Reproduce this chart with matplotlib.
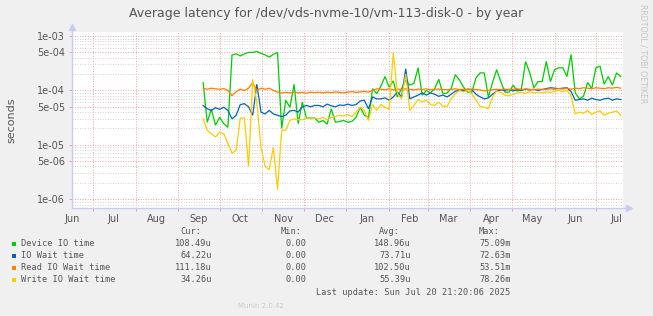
import matplotlib
matplotlib.use("Agg")
import matplotlib.pyplot as plt
import matplotlib.dates as mdates
from matplotlib.ticker import FixedLocator, FuncFormatter, NullFormatter
from matplotlib.patches import Rectangle
import numpy as np
import pandas as pd

# ---------------- data ----------------
start_day = "2024-09-19"
step = "3D"

device_io = [
    1.4e-4, 2.6e-5, 4.5e-5, 2.3e-5, 3.2e-5, 2.45e-5, 2.1e-5, 4.5e-4, 4.7e-4, 4.3e-4,
    4.7e-4, 5.0e-4, 5.0e-4, 5.2e-4, 4.8e-4, 4.5e-4, 4.1e-4, 4.6e-4, 5.0e-4, 2.0e-5,
    6.6e-5, 4.9e-5, 1.3e-4, 2.45e-5, 6.1e-5, 3.1e-5, 3.1e-5, 3.1e-5, 2.6e-5, 2.8e-5,
    2.4e-5, 4.6e-5, 2.6e-5, 2.7e-5, 2.8e-5, 2.6e-5, 2.7e-5, 3.2e-5, 4.9e-5, 3.5e-5,
    3.2e-5, 1.08e-4, 8.7e-5, 1.2e-4, 1.8e-4, 1.15e-4, 1.5e-4, 7.6e-5, 1.08e-4, 1.55e-4,
    1.25e-4, 1.35e-4, 2.6e-4, 8.2e-5, 1.0e-4, 9.0e-5, 1.08e-4, 1.6e-4, 8.7e-5, 9.0e-5,
    1.08e-4, 1.95e-4, 1.55e-4, 1.15e-4, 9.3e-5, 9.3e-5, 1.7e-4, 2.1e-4, 2.1e-4, 7.6e-5,
    1.4e-4, 2.4e-4, 1.45e-4, 9.3e-5, 9.3e-5, 1.25e-4, 9.7e-5, 1.08e-4, 3.4e-4, 2.1e-4,
    1.12e-4, 1.45e-4, 1.45e-4, 3.4e-4, 1.45e-4, 2.4e-4, 2.6e-4, 2.6e-4, 1.8e-4, 4.6e-4,
    9.0e-5, 7.0e-5, 7.8e-5, 1.4e-4, 1.08e-4, 2.6e-4, 2.8e-4, 1.3e-4, 1.8e-4, 1.25e-4,
    2.1e-4, 1.8e-4,
]

io_wait = [
    5.3e-5, 4.6e-5, 4.3e-5, 4.8e-5, 4.5e-5, 4.9e-5, 4.3e-5, 3.0e-5, 3.5e-5, 5.5e-5,
    5.7e-5, 5.0e-5, 3.5e-5, 1.3e-4, 4.0e-5, 3.7e-5, 4.3e-5, 3.7e-5, 3.5e-5, 3.3e-5,
    3.5e-5, 4.2e-5, 4.3e-5, 4.0e-5, 5.0e-5, 5.3e-5, 5.0e-5, 5.3e-5, 5.3e-5, 5.0e-5,
    5.6e-5, 5.2e-5, 5.0e-5, 5.4e-5, 5.3e-5, 5.6e-5, 5.3e-5, 5.5e-5, 6.4e-5, 6.6e-5,
    4.6e-5, 7.6e-5, 7.0e-5, 7.0e-5, 7.3e-5, 6.6e-5, 7.6e-5, 9.3e-5, 7.6e-5, 2.5e-4,
    7.0e-5, 7.6e-5, 8.2e-5, 9.0e-5, 8.2e-5, 9.0e-5, 8.5e-5, 7.8e-5, 8.2e-5, 7.6e-5,
    8.5e-5, 9.7e-5, 1.0e-4, 1.0e-4, 1.06e-4, 1.03e-4, 8.5e-5, 7.6e-5, 7.0e-5, 7.3e-5,
    8.5e-5, 9.7e-5, 1.02e-4, 1.0e-4, 1.05e-4, 9.8e-5, 1.03e-4, 1.0e-4, 1.06e-4, 1.02e-4,
    1.05e-4, 1.0e-4, 1.04e-4, 1.08e-4, 1.12e-4, 1.1e-4, 1.08e-4, 1.1e-4, 1.12e-4, 9.5e-5,
    6.6e-5, 6.8e-5, 7.0e-5, 6.6e-5, 7.2e-5, 6.8e-5, 6.6e-5, 7.0e-5, 7.2e-5, 6.6e-5,
    7.0e-5, 6.8e-5,
]

read_wait = [
    1.1e-4, 1.05e-4, 1.1e-4, 1.07e-4, 1.05e-4, 1.08e-4, 1.0e-4, 8.0e-5, 9.5e-5, 1.05e-4,
    1.0e-4, 1.1e-4, 1.4e-4, 1.0e-4, 1.1e-4, 1.05e-4, 1.1e-4, 1.0e-4, 9.3e-5, 9.0e-5,
    9.2e-5, 9.0e-5, 9.3e-5, 9.0e-5, 9.2e-5, 8.9e-5, 9.3e-5, 9.1e-5, 9.3e-5, 9.0e-5,
    9.3e-5, 9.1e-5, 9.4e-5, 9.2e-5, 9.0e-5, 9.3e-5, 9.5e-5, 9.2e-5, 9.4e-5, 9.6e-5,
    9.3e-5, 1.0e-4, 1.07e-4, 1.05e-4, 1.03e-4, 1.07e-4, 1.02e-4, 1.06e-4, 1.04e-4, 1.07e-4,
    1.05e-4, 1.02e-4, 1.06e-4, 1.04e-4, 1.07e-4, 1.03e-4, 1.05e-4, 1.06e-4, 1.04e-4, 1.03e-4,
    1.05e-4, 1.07e-4, 1.04e-4, 1.05e-4, 1.03e-4, 1.06e-4, 1.04e-4, 1.02e-4, 9.8e-5, 1.0e-4,
    1.03e-4, 1.05e-4, 1.04e-4, 1.06e-4, 1.03e-4, 1.05e-4, 1.07e-4, 1.04e-4, 1.06e-4, 1.05e-4,
    1.03e-4, 1.06e-4, 1.04e-4, 1.05e-4, 1.07e-4, 1.05e-4, 1.08e-4, 1.06e-4, 1.1e-4, 1.05e-4,
    1.1e-4, 1.08e-4, 1.12e-4, 1.1e-4, 1.07e-4, 1.12e-4, 1.1e-4, 1.08e-4, 1.12e-4, 1.1e-4,
    1.14e-4, 1.1e-4,
]

write_wait = [
    3.0e-5, 1.85e-5, 1.6e-5, 1.4e-5, 1.7e-5, 1.6e-5, 1.05e-5, 7.0e-6, 8.0e-6, 3.1e-5,
    3.1e-5, 4.0e-6, 1.6e-4, 6.0e-5, 9.0e-6, 4.0e-6, 3.5e-6, 9.0e-6, 1.5e-6, 1.85e-5,
    1.85e-5, 2.8e-5, 3.0e-5, 2.9e-5, 2.9e-5, 3.1e-5, 3.0e-5, 3.1e-5, 3.0e-5, 3.2e-5,
    2.9e-5, 3.2e-5, 3.3e-5, 3.5e-5, 3.4e-5, 3.6e-5, 3.3e-5, 4.0e-5, 4.9e-5, 4.3e-5,
    2.8e-5, 5.5e-5, 4.3e-5, 5.5e-5, 4.9e-5, 4.5e-5, 5.0e-4, 8.7e-5, 7.0e-5, 2.0e-4,
    4.3e-5, 5.3e-5, 6.8e-5, 6.1e-5, 6.6e-5, 5.5e-5, 5.3e-5, 6.1e-5, 5.1e-5, 5.1e-5,
    7.0e-5, 8.7e-5, 1.0e-4, 9.4e-5, 1.0e-4, 8.7e-5, 6.6e-5, 5.1e-5, 4.9e-5, 4.6e-5,
    7.6e-5, 9.7e-5, 9.2e-5, 8.2e-5, 8.0e-5, 8.5e-5, 9.0e-5, 9.3e-5, 8.8e-5, 9.5e-5,
    9.0e-5, 9.3e-5, 9.0e-5, 9.4e-5, 9.2e-5, 9.5e-5, 1.0e-4, 9.5e-5, 1.0e-4, 8.0e-5,
    3.7e-5, 4.0e-5, 3.8e-5, 4.3e-5, 3.6e-5, 4.0e-5, 4.2e-5, 3.5e-5, 3.8e-5, 4.0e-5,
    4.2e-5, 3.5e-5,
]

series_names = ["Device IO time", "IO Wait time", "Read IO Wait time", "Write IO Wait time"]
series_colors = ["#00CC00", "#0066B3", "#FF8000", "#FFCC00"]
cur_vals = ["108.49u", "64.22u", "111.18u", "34.26u"]
min_vals = ["0.00", "0.00", "0.00", "0.00"]
avg_vals = ["148.96u", "73.71u", "102.50u", "55.39u"]
max_vals = ["75.09m", "72.63m", "53.51m", "78.26m"]

y_major = [1e-6, 5e-6, 1e-5, 5e-5, 1e-4, 5e-4, 1e-3]
t_start = pd.Timestamp("2024-06-15 21:20")
t_end = pd.Timestamp("2025-07-20 21:20")

# ---------------- figure ----------------
W, H = 653, 316
fig = plt.figure(figsize=(W / 100, H / 100), dpi=100, facecolor="#F0F0F0")

def fx(x):
    return x / W

def fy(y):
    return 1 - y / H

L, R, T, B = 72, 623.3, 32.3, 208.3
ax = fig.add_axes([fx(L), fy(B), (R - L) / W, (B - T) / H])
ax.set_facecolor("white")

dates = pd.date_range(start_day, periods=len(device_io), freq=step)
series = [device_io, io_wait, read_wait, write_wait]
for vals, col in zip(series, series_colors):
    ax.plot(dates, vals, color=col, lw=0.9, zorder=3, solid_joinstyle="miter")

ax.set_yscale("log")
ax.set_ylim(6.82e-7, 1.17e-3)
ax.set_xlim(t_start, t_end)

# y ticks / grid
minor_y = [m * 10.0 ** e for e in range(-7, -2) for m in (2, 3, 4, 6, 7, 8, 9)]
ax.yaxis.set_major_locator(FixedLocator(y_major))
ax.yaxis.set_minor_locator(FixedLocator(minor_y))
ax.yaxis.set_major_formatter(FuncFormatter(lambda v, p: f"{v:.0e}"))
ax.yaxis.set_minor_formatter(NullFormatter())

# x ticks / grid: month starts as grid, labels at mid-month
ax.xaxis.set_major_locator(mdates.MonthLocator(bymonthday=1))
ax.xaxis.set_minor_locator(mdates.MonthLocator(bymonthday=16))
ax.xaxis.set_major_formatter(NullFormatter())
ax.xaxis.set_minor_formatter(mdates.DateFormatter("%b"))

dot = (0, (1, 1.6))
ax.yaxis.grid(True, which="minor", color="#D2D2D2", lw=0.7, ls=dot, zorder=1)
ax.yaxis.grid(True, which="major", color="#F2A0A0", lw=0.7, ls=dot, zorder=1)
ax.xaxis.grid(True, which="major", color="#F2A0A0", lw=0.7, ls=dot, zorder=1)
ax.set_axisbelow(True)

tc = "#555555"
ax.tick_params(axis="y", which="major", length=2, width=0.7, color="#F2A0A0",
               labelsize=7, labelcolor=tc, pad=3)
ax.tick_params(axis="y", which="minor", length=0)
ax.tick_params(axis="x", which="major", length=2, width=0.7, color="#F2A0A0", pad=2)
ax.tick_params(axis="x", which="minor", length=0, labelsize=7, labelcolor=tc, pad=4)

for s in ("top", "right", "left", "bottom"):
    ax.spines[s].set_visible(False)

axis_col = "#C8CCF4"
ax.plot([0, 0], [0, 1.025], transform=ax.transAxes, color=axis_col, lw=1.0, clip_on=False, zorder=4)
ax.plot([0, 1.008], [0, 0], transform=ax.transAxes, color=axis_col, lw=1.0, clip_on=False, zorder=4)
ax.plot([0], [1.03], transform=ax.transAxes, marker="^", ms=4, color=axis_col, clip_on=False, zorder=4)
ax.plot([1.01], [0], transform=ax.transAxes, marker=">", ms=4, color=axis_col, clip_on=False, zorder=4)

# texts
fig.text(fx(326), fy(13), "Average latency for /dev/vds-nvme-10/vm-113-disk-0 - by year",
         ha="center", va="center", fontsize=9, color=tc)
fig.text(fx(11), fy(120), "seconds", rotation=90, ha="center", va="center", fontsize=8, color=tc)
fig.text(fx(643), fy(54), "RRDTOOL / TOBI OETIKER", rotation=270, ha="center", va="center",
         fontsize=5.6, color="#C4C4C4")

# legend
mono = "DejaVu Sans Mono"
lfs = 6.2
hdr_y = 231.5
for txt, xr in zip(["Cur:", "Min:", "Avg:", "Max:"], [201, 302, 400, 500]):
    fig.text(fx(xr), fy(hdr_y), txt, ha="right", va="center", family=mono, fontsize=lfs, color=tc)

rows_y = [244, 256, 268, 280]
col_right = [211.7, 307, 410.7, 510.7]
for i, (name, col) in enumerate(zip(series_names, series_colors)):
    y = rows_y[i]
    fig.patches.append(Rectangle((fx(11.7), fy(y + 2.3)), 4.5 / W, 4.5 / H,
                                 transform=fig.transFigure, facecolor=col, edgecolor="none"))
    fig.text(fx(21), fy(y), name, ha="left", va="center", family=mono, fontsize=lfs, color=tc)
    for val, xr in zip([cur_vals[i], min_vals[i], avg_vals[i], max_vals[i]], col_right):
        fig.text(fx(xr), fy(y), val, ha="right", va="center", family=mono, fontsize=lfs, color=tc)

fig.text(fx(510.7), fy(292.3), "Last update: Sun Jul 20 21:20:06 2025", ha="right", va="center",
         family=mono, fontsize=lfs, color=tc)
fig.text(fx(261), fy(305.7), "Munin 2.0.42", ha="center", va="center", fontsize=5,
         color="#CCCCCC")

fig.savefig("out.png", dpi=100, facecolor=fig.get_facecolor())
